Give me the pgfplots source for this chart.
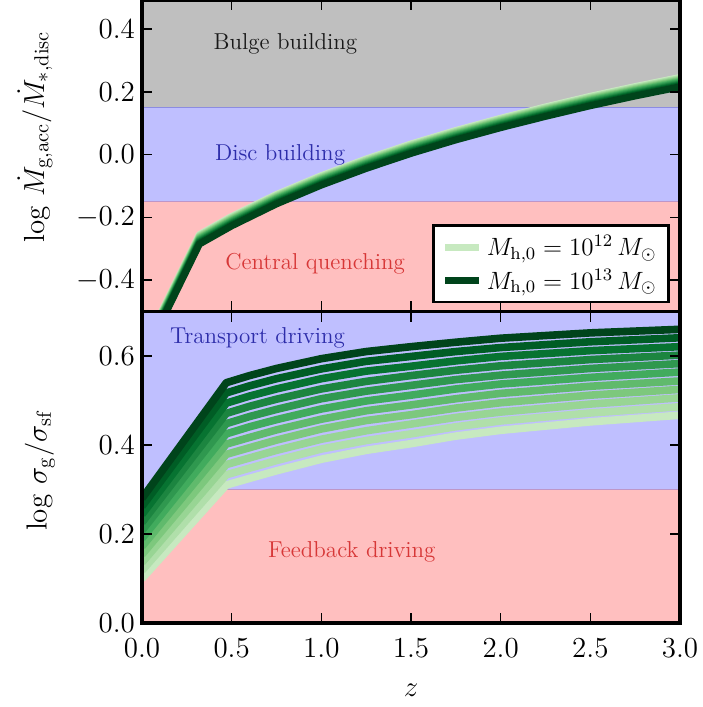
\RequirePackage{fix-cm}
\documentclass[border=0pt]{standalone}
\usepackage{pgfplots}
\usepackage{pgfplotstable}
\pgfplotsset{compat=1.18}

\definecolor{g0}{RGB}{199,233,192}
\definecolor{g1}{RGB}{176,223,170}
\definecolor{g2}{RGB}{152,213,148}
\definecolor{g3}{RGB}{125,200,125}
\definecolor{g4}{RGB}{96,186,108}
\definecolor{g5}{RGB}{65,171,93}
\definecolor{g6}{RGB}{47,152,79}
\definecolor{g7}{RGB}{28,133,64}
\definecolor{g8}{RGB}{7,115,49}
\definecolor{g9}{RGB}{0,93,37}
\definecolor{g10}{RGB}{0,68,27}
\definecolor{fgray}{RGB}{191,191,191}
\definecolor{fblue}{RGB}{191,191,255}
\definecolor{fred}{RGB}{255,191,191}
\definecolor{tblue}{RGB}{45,45,170}
\definecolor{tred}{RGB}{215,55,55}
\definecolor{tblack}{RGB}{25,25,25}
\definecolor{edgeblue}{RGB}{140,140,225}
\definecolor{edgered}{RGB}{190,150,200}

\pgfplotstableread{
z m0 m1 m2 m3 m4 m5 m6 m7 m8 m9 m10
0 -0.629 -0.632 -0.635 -0.638 -0.641 -0.644 -0.647 -0.650 -0.653 -0.656 -0.659
0.32 -0.255 -0.258 -0.261 -0.264 -0.267 -0.270 -0.273 -0.276 -0.279 -0.282 -0.285
0.5 -0.197 -0.200 -0.203 -0.206 -0.209 -0.212 -0.215 -0.218 -0.221 -0.224 -0.227
0.75 -0.127 -0.130 -0.133 -0.136 -0.139 -0.142 -0.145 -0.148 -0.151 -0.154 -0.157
1.0 -0.067 -0.070 -0.073 -0.076 -0.079 -0.082 -0.085 -0.088 -0.091 -0.094 -0.097
1.25 -0.014 -0.017 -0.020 -0.023 -0.026 -0.029 -0.032 -0.035 -0.038 -0.041 -0.044
1.5 0.034 0.031 0.028 0.025 0.022 0.019 0.016 0.013 0.010 0.007 0.004
1.75 0.077 0.074 0.071 0.068 0.065 0.062 0.059 0.056 0.053 0.050 0.047
2.0 0.116 0.113 0.110 0.107 0.104 0.101 0.098 0.095 0.092 0.089 0.086
2.25 0.152 0.149 0.146 0.143 0.140 0.137 0.134 0.131 0.128 0.125 0.122
2.5 0.186 0.183 0.180 0.177 0.174 0.171 0.168 0.165 0.162 0.159 0.156
2.75 0.217 0.214 0.211 0.208 0.205 0.202 0.199 0.196 0.193 0.190 0.187
3.0 0.246 0.243 0.240 0.237 0.234 0.231 0.228 0.225 0.222 0.219 0.216
}\toptab

\pgfplotstableread{
z m0 m1 m2 m3 m4 m5 m6 m7 m8 m9 m10
0 0.100 0.118 0.136 0.154 0.172 0.190 0.208 0.226 0.244 0.262 0.280
0.47 0.310 0.333 0.356 0.379 0.402 0.425 0.448 0.471 0.494 0.517 0.540
0.6 0.325 0.348 0.371 0.394 0.417 0.441 0.464 0.487 0.510 0.533 0.556
0.75 0.342 0.365 0.388 0.411 0.434 0.457 0.480 0.503 0.526 0.549 0.572
1.0 0.368 0.391 0.413 0.436 0.458 0.481 0.504 0.526 0.549 0.571 0.594
1.25 0.388 0.410 0.432 0.455 0.477 0.499 0.521 0.543 0.566 0.588 0.610
1.5 0.403 0.425 0.447 0.468 0.490 0.512 0.534 0.556 0.577 0.599 0.621
1.75 0.420 0.441 0.462 0.483 0.504 0.526 0.547 0.568 0.589 0.610 0.631
2.0 0.433 0.454 0.474 0.495 0.516 0.537 0.557 0.578 0.599 0.619 0.640
2.5 0.452 0.472 0.492 0.512 0.532 0.552 0.572 0.592 0.612 0.632 0.652
3.0 0.467 0.486 0.506 0.525 0.544 0.564 0.583 0.602 0.621 0.641 0.660
}\bottab

\begin{document}
\begin{tikzpicture}
\path[use as bounding box] (-71pt,-42pt) rectangle (280pt,311.5pt);
\pgfplotsset{
  common/.style={
    scale only axis, width=269pt, height=155.75pt,
    xmin=0, xmax=3, xtick={0,0.5,1,1.5,2,2.5,3},
    tick align=inside, major tick length=5pt,
    every tick/.style={black, line width=0.8pt},
    axis line style={line width=1.6pt},
    axis on top,
    tick label style={font=\fontsize{14.5}{17}\selectfont},
    xticklabel style={yshift=-4.5pt, /pgf/number format/.cd, fixed, fixed zerofill, precision=1},
    yticklabel style={/pgf/number format/.cd, fixed, fixed zerofill, precision=1},
    label style={font=\fontsize{14.5}{17}\selectfont},
  }
}
% bottom panel
\begin{axis}[common, at={(0,0)}, anchor=south west,
  ymin=0, ymax=0.7, ytick={0,0.2,0.4,0.6},
  xlabel={$z$}, xlabel style={at={(axis description cs:0.5,-0.215)}, anchor=center},
  ylabel={$\log\,\sigma_{\rm g}/\sigma_{\rm sf}$},
  ylabel style={at={(axis description cs:-0.19,0.49)}, anchor=center},
]
\addplot[draw=none, fill=fred, forget plot] coordinates {(0,0) (3,0) (3,0.3) (0,0.3)} -- cycle;
\addplot[draw=none, fill=fblue, forget plot] coordinates {(0,0.3) (3,0.3) (3,0.7) (0,0.7)} -- cycle;
\addplot[edgered, line width=0.5pt, forget plot] coordinates {(0,0.3) (3,0.3)};
\pgfplotsinvokeforeach{0,...,10}{
  \addplot[color=g#1, line width=3.8pt, line join=round, forget plot] table[x=z, y=m#1]{\bottab};
}
\node[text=tblue, font=\fontsize{11.5}{14}\selectfont] at (axis cs:0.644,0.640) {Transport driving};
\node[text=tred, font=\fontsize{11.5}{14}\selectfont] at (axis cs:1.17,0.160) {Feedback driving};
\end{axis}
% top panel
\begin{axis}[common, at={(0,155.75pt)}, anchor=south west,
  ymin=-0.5, ymax=0.493, ytick={-0.4,-0.2,0,0.2,0.4},
  xticklabels={},
  ylabel={$\log\,\dot{M}_{\rm g,acc}/\dot{M}_{*,\rm disc}$},
  ylabel style={at={(axis description cs:-0.199,0.56)}, anchor=center},
  legend style={at={(0.981,0.026)}, anchor=south east, draw=black, line width=1.2pt,
    font=\fontsize{12.5}{15}\selectfont, fill=white, inner xsep=4pt, inner ysep=3pt,
    row sep=1pt},
  legend cell align=left,
]
\addplot[draw=none, fill=fred, forget plot] coordinates {(0,-0.6) (3,-0.6) (3,-0.15) (0,-0.15)} -- cycle;
\addplot[draw=none, fill=fblue, forget plot] coordinates {(0,-0.15) (3,-0.15) (3,0.15) (0,0.15)} -- cycle;
\addplot[draw=none, fill=fgray, forget plot] coordinates {(0,0.15) (3,0.15) (3,0.6) (0,0.6)} -- cycle;
\addplot[edgeblue, line width=0.5pt, forget plot] coordinates {(0,0.15) (3,0.15)};
\addplot[edgered, line width=0.5pt, forget plot] coordinates {(0,-0.15) (3,-0.15)};
\pgfplotsinvokeforeach{0,...,10}{
  \addplot[color=g#1, line width=3.5pt, line join=round, forget plot] table[x=z, y=m#1]{\toptab};
}
\node[text=tblack, font=\fontsize{11.5}{14}\selectfont] at (axis cs:0.80,0.352) {Bulge building};
\node[text=tblue, font=\fontsize{11.5}{14}\selectfont] at (axis cs:0.77,0.0) {Disc building};
\node[text=tred, font=\fontsize{11.5}{14}\selectfont] at (axis cs:0.965,-0.347) {Central quenching};
\addlegendimage{color=g0, line width=3.5pt}
\addlegendentry{$M_{\rm h,0}=10^{12}\,M_\odot$}
\addlegendimage{color=g10, line width=3.5pt}
\addlegendentry{$M_{\rm h,0}=10^{13}\,M_\odot$}
\end{axis}
\end{tikzpicture}
\end{document}
